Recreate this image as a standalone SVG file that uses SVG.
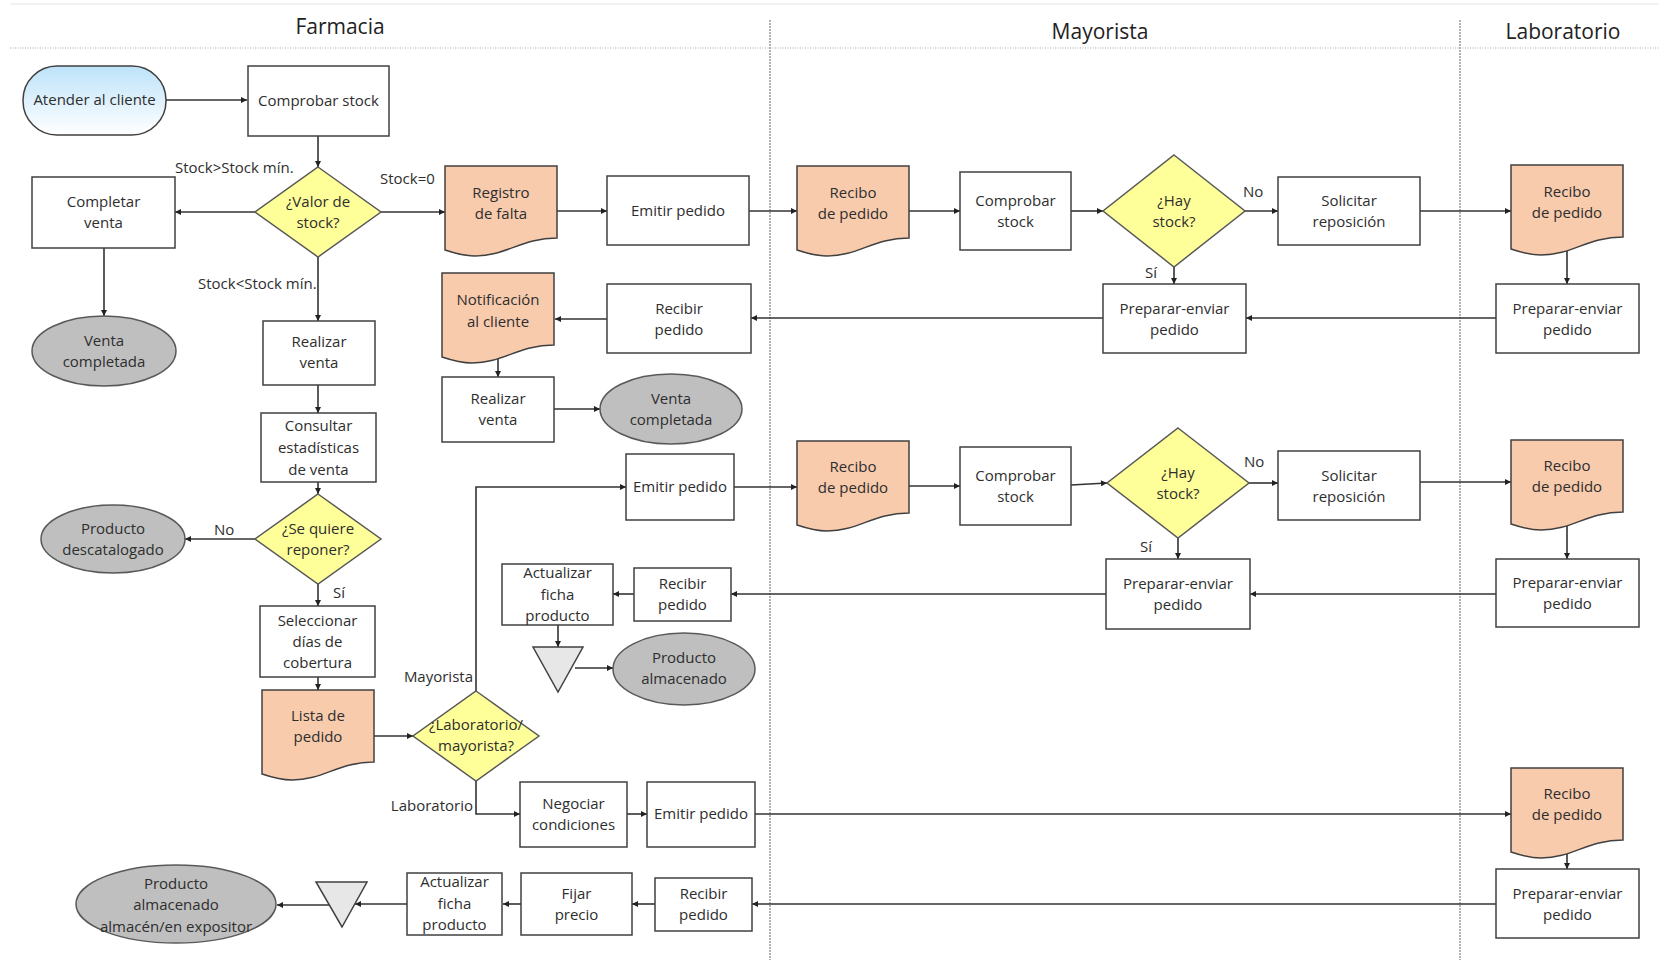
<svg xmlns="http://www.w3.org/2000/svg" width="1659" height="960" viewBox="0 0 1659 960">
<defs>
<style>
.box{fill:#fff;stroke:#404040;stroke-width:1.5}
.doc{fill:#f8cbad;stroke:#404040;stroke-width:1.5}
.dec{fill:#ffff99;stroke:#595959;stroke-width:1.5}
.end{fill:#bfbfbf;stroke:#595959;stroke-width:1.5}
.tri{fill:#e7e7e7;stroke:#404040;stroke-width:1.5}
.t{font-family:"Open Sans","Noto Sans",sans-serif;font-size:15px;fill:#2e2e2e;text-anchor:middle}
.lbl{font-family:"Open Sans","Noto Sans",sans-serif;font-size:15px;fill:#2e2e2e}
.title{font-family:"Open Sans","Noto Sans",sans-serif;font-size:21px;fill:#222;text-anchor:middle}
.c{fill:none;stroke:#333;stroke-width:1.6;marker-end:url(#arr)}
.lane{stroke:#8a8a8a;stroke-width:1.3;stroke-dasharray:2 1;fill:none}
.hl{stroke:#aaa;stroke-width:1.2;stroke-dasharray:1 1.5;fill:none}
</style>
<linearGradient id="blue" x1="0" y1="0" x2="0" y2="1"><stop offset="0" stop-color="#bde3fa"/><stop offset="1" stop-color="#ffffff"/></linearGradient>
<marker id="arr" viewBox="0 0 10 10" refX="10" refY="5" markerWidth="8" markerHeight="6" markerUnits="userSpaceOnUse" orient="auto"><path d="M0,0 L10,5 L0,10 z" fill="#222"/></marker>
<path id="docShape" d="M0,0 H112 V72 C76,72 62,90 30,90 C18,90 9,87 0,84 Z"/>
</defs>
<rect width="1659" height="960" fill="#fff"/>
<g id="lanes">
<line x1="10" y1="4" x2="1659" y2="4" stroke="#eeeeee" stroke-width="1.5"/>
<line class="hl" x1="10" y1="48" x2="1659" y2="48"/>
<line class="lane" x1="770" y1="20" x2="770" y2="960"/>
<line class="lane" x1="1460" y1="20" x2="1460" y2="960"/>
<text class="title" x="340" y="34">Farmacia</text>
<text class="title" x="1100" y="39">Mayorista</text>
<text class="title" x="1563" y="39">Laboratorio</text>
</g>
<g id="connectors">
<path class="c" d="M166,100 H247"/>
<path class="c" d="M318,136 V167"/>
<path class="c" d="M255,212 H175"/>
<path class="c" d="M381,212 H445"/>
<path class="c" d="M104,248 V316"/>
<path class="c" d="M318,257 V321"/>
<path class="c" d="M557,211 H607"/>
<path class="c" d="M749,211 H797"/>
<path class="c" d="M909,211 H960"/>
<path class="c" d="M1071,211 H1103"/>
<path class="c" d="M1245,211 H1278"/>
<path class="c" d="M1420,211 H1511"/>
<path class="c" d="M1567,251 V284"/>
<path class="c" d="M1174,267 V284"/>
<path class="c" d="M1496,318 H1246"/>
<path class="c" d="M1103,318 H751"/>
<path class="c" d="M607,319 H555"/>
<path class="c" d="M498,359 V377"/>
<path class="c" d="M554,409 H600"/>
<path class="c" d="M318,385 V413"/>
<path class="c" d="M318,482 V494"/>
<path class="c" d="M255,539 H185"/>
<path class="c" d="M318,584 V606"/>
<path class="c" d="M318,677 V690"/>
<path class="c" d="M374,736 H413"/>
<path class="c" d="M476,691 V487 H626"/>
<path class="c" d="M734,487 H797"/>
<path class="c" d="M909,486 H960"/>
<path class="c" d="M1071,485 L1107,483"/>
<path class="c" d="M1249,483 H1278"/>
<path class="c" d="M1420,482 H1511"/>
<path class="c" d="M1567,526 V559"/>
<path class="c" d="M1178,538 V559"/>
<path class="c" d="M1496,594 H1250"/>
<path class="c" d="M1106,594 H731"/>
<path class="c" d="M634,594 H613"/>
<path class="c" d="M558,625 V647"/>
<path class="c" d="M575,668 H613"/>
<path class="c" d="M476,781 V814 H520"/>
<path class="c" d="M627,814 H647"/>
<path class="c" d="M755,814 H1511"/>
<path class="c" d="M1567,854 V869"/>
<path class="c" d="M1496,904 H752"/>
<path class="c" d="M655,904 H632"/>
<path class="c" d="M521,904 H503"/>
<path class="c" d="M407,904 H355"/>
<path class="c" d="M330,905 H277"/>
</g>
<g id="labels">
<text class="lbl" x="175" y="173">Stock&gt;Stock mín.</text>
<text class="lbl" x="380" y="184">Stock=0</text>
<text class="lbl" x="198" y="289">Stock&lt;Stock mín.</text>
<text class="lbl" x="214" y="535">No</text>
<text class="lbl" x="333" y="598">Sí</text>
<text class="lbl" x="473" y="682" text-anchor="end">Mayorista</text>
<text class="lbl" x="473" y="811" text-anchor="end">Laboratorio</text>
<text class="lbl" x="1243" y="197">No</text>
<text class="lbl" x="1145" y="278">Sí</text>
<text class="lbl" x="1244" y="467">No</text>
<text class="lbl" x="1140" y="552">Sí</text>
</g>
<g id="n_atender"><rect x="23" y="66" width="143" height="69" rx="34" fill="url(#blue)" stroke="#404040" stroke-width="1.5"/><text class="t" x="94.5" y="105">Atender al cliente</text></g>
<g id="n_comprobar"><rect class="box" x="248" y="66" width="141" height="70"/><text class="t" x="318.5" y="106">Comprobar stock</text></g>
<g id="n_valor"><polygon class="dec" points="318,167 381,212 318,257 255,212"/><text class="t" x="318" y="207">¿Valor de</text><text class="t" x="318" y="228">stock?</text></g>
<g id="n_completar"><rect class="box" x="32" y="177" width="143" height="71"/><text class="t" x="103.5" y="207">Completar</text><text class="t" x="103.5" y="228">venta</text></g>
<g id="n_venta1"><ellipse class="end" cx="104" cy="351" rx="72" ry="35"/><text class="t" x="104" y="346">Venta</text><text class="t" x="104" y="367">completada</text></g>
<g id="n_realizar1"><rect class="box" x="263" y="321" width="112" height="64"/><text class="t" x="319" y="347">Realizar</text><text class="t" x="319" y="368">venta</text></g>
<g id="n_consultar"><rect class="box" x="261" y="413" width="115" height="69"/><text class="t" x="318.5" y="431">Consultar</text><text class="t" x="318.5" y="453">estadísticas</text><text class="t" x="318.5" y="475">de venta</text></g>
<g id="n_reponer"><polygon class="dec" points="318,494 381,539 318,584 255,539"/><text class="t" x="318" y="534">¿Se quiere</text><text class="t" x="318" y="555">reponer?</text></g>
<g id="n_descat"><ellipse class="end" cx="113" cy="539" rx="72" ry="34"/><text class="t" x="113" y="534">Producto</text><text class="t" x="113" y="555">descatalogado</text></g>
<g id="n_seleccionar"><rect class="box" x="260" y="606" width="115" height="71"/><text class="t" x="317.5" y="626">Seleccionar</text><text class="t" x="317.5" y="647">días de</text><text class="t" x="317.5" y="668">cobertura</text></g>
<g id="n_lista"><use href="#docShape" class="doc" x="262" y="690"/><text class="t" x="318" y="721">Lista de</text><text class="t" x="318" y="742">pedido</text></g>
<g id="n_labmay"><polygon class="dec" points="476,691 539,736 476,781 413,736"/><text class="t" x="476" y="730">¿Laboratorio/</text><text class="t" x="476" y="751">mayorista?</text></g>
<g id="n_registro"><use href="#docShape" class="doc" x="445" y="166"/><text class="t" x="501" y="198">Registro</text><text class="t" x="501" y="219">de falta</text></g>
<g id="n_emitir1"><rect class="box" x="607" y="176" width="142" height="69"/><text class="t" x="678" y="216">Emitir pedido</text></g>
<g id="n_recibir1"><rect class="box" x="607" y="284" width="144" height="69"/><text class="t" x="679" y="314">Recibir</text><text class="t" x="679" y="335">pedido</text></g>
<g id="n_notif"><use href="#docShape" class="doc" x="442" y="273"/><text class="t" x="498" y="305">Notificación</text><text class="t" x="498" y="327">al cliente</text></g>
<g id="n_realizar2"><rect class="box" x="442" y="377" width="112" height="65"/><text class="t" x="498" y="404">Realizar</text><text class="t" x="498" y="425">venta</text></g>
<g id="n_venta2"><ellipse class="end" cx="671" cy="409" rx="71" ry="35"/><text class="t" x="671" y="404">Venta</text><text class="t" x="671" y="425">completada</text></g>
<g id="n_emitir2"><rect class="box" x="626" y="454" width="108" height="66"/><text class="t" x="680" y="492">Emitir pedido</text></g>
<g id="n_actualizar2"><rect class="box" x="502" y="564" width="111" height="61"/><text class="t" x="557.5" y="578">Actualizar</text><text class="t" x="557.5" y="600">ficha</text><text class="t" x="557.5" y="621">producto</text></g>
<g id="n_recibir2"><rect class="box" x="634" y="568" width="97" height="53"/><text class="t" x="682.5" y="589">Recibir</text><text class="t" x="682.5" y="610">pedido</text></g>
<g id="n_tri2"><polygon class="tri" points="533,647 583,647 558,692"/></g>
<g id="n_almacenado"><ellipse class="end" cx="684" cy="669" rx="71" ry="36"/><text class="t" x="684" y="663">Producto</text><text class="t" x="684" y="684">almacenado</text></g>
<g id="n_negociar"><rect class="box" x="520" y="782" width="107" height="65"/><text class="t" x="573.5" y="809">Negociar</text><text class="t" x="573.5" y="830">condiciones</text></g>
<g id="n_emitir3"><rect class="box" x="647" y="782" width="108" height="65"/><text class="t" x="701" y="819">Emitir pedido</text></g>
<g id="n_recibir3"><rect class="box" x="655" y="878" width="97" height="53"/><text class="t" x="703.5" y="899">Recibir</text><text class="t" x="703.5" y="920">pedido</text></g>
<g id="n_fijar"><rect class="box" x="521" y="873" width="111" height="62"/><text class="t" x="576.5" y="899">Fijar</text><text class="t" x="576.5" y="920">precio</text></g>
<g id="n_actualizar3"><rect class="box" x="407" y="873" width="95" height="62"/><text class="t" x="454.5" y="887">Actualizar</text><text class="t" x="454.5" y="909">ficha</text><text class="t" x="454.5" y="930">producto</text></g>
<g id="n_tri3"><polygon class="tri" points="316,882 367,882 342,927"/></g>
<g id="n_almacen"><ellipse class="end" cx="176" cy="904" rx="100" ry="39"/><text class="t" x="176" y="889">Producto</text><text class="t" x="176" y="910">almacenado</text><text class="t" x="176" y="932">almacén/en expositor</text></g>
<g id="n_recibo_m1"><use href="#docShape" class="doc" x="797" y="166"/><text class="t" x="853" y="198">Recibo</text><text class="t" x="853" y="219">de pedido</text></g>
<g id="n_comp_m1"><rect class="box" x="960" y="172" width="111" height="78"/><text class="t" x="1015.5" y="206">Comprobar</text><text class="t" x="1015.5" y="227">stock</text></g>
<g id="n_hay1"><polygon class="dec" points="1174,155 1245,211 1174,267 1103,211"/><text class="t" x="1174" y="206">¿Hay</text><text class="t" x="1174" y="227">stock?</text></g>
<g id="n_sol1"><rect class="box" x="1278" y="177" width="142" height="68"/><text class="t" x="1349" y="206">Solicitar</text><text class="t" x="1349" y="227">reposición</text></g>
<g id="n_prep_m1"><rect class="box" x="1103" y="284" width="143" height="69"/><text class="t" x="1174.5" y="314">Preparar-enviar</text><text class="t" x="1174.5" y="335">pedido</text></g>
<g id="n_recibo_m2"><use href="#docShape" class="doc" x="797" y="441"/><text class="t" x="853" y="472">Recibo</text><text class="t" x="853" y="493">de pedido</text></g>
<g id="n_comp_m2"><rect class="box" x="960" y="447" width="111" height="78"/><text class="t" x="1015.5" y="481">Comprobar</text><text class="t" x="1015.5" y="502">stock</text></g>
<g id="n_hay2"><polygon class="dec" points="1178,428 1249,483 1178,538 1107,483"/><text class="t" x="1178" y="478">¿Hay</text><text class="t" x="1178" y="499">stock?</text></g>
<g id="n_sol2"><rect class="box" x="1278" y="451" width="142" height="69"/><text class="t" x="1349" y="481">Solicitar</text><text class="t" x="1349" y="502">reposición</text></g>
<g id="n_prep_m2"><rect class="box" x="1106" y="559" width="144" height="70"/><text class="t" x="1178" y="589">Preparar-enviar</text><text class="t" x="1178" y="610">pedido</text></g>
<g id="n_recibo_l1"><use href="#docShape" class="doc" x="1511" y="165"/><text class="t" x="1567" y="197">Recibo</text><text class="t" x="1567" y="218">de pedido</text></g>
<g id="n_prep_l1"><rect class="box" x="1496" y="284" width="143" height="69"/><text class="t" x="1567.5" y="314">Preparar-enviar</text><text class="t" x="1567.5" y="335">pedido</text></g>
<g id="n_recibo_l2"><use href="#docShape" class="doc" x="1511" y="440"/><text class="t" x="1567" y="471">Recibo</text><text class="t" x="1567" y="492">de pedido</text></g>
<g id="n_prep_l2"><rect class="box" x="1496" y="559" width="143" height="68"/><text class="t" x="1567.5" y="588">Preparar-enviar</text><text class="t" x="1567.5" y="609">pedido</text></g>
<g id="n_recibo_l3"><use href="#docShape" class="doc" x="1511" y="768"/><text class="t" x="1567" y="799">Recibo</text><text class="t" x="1567" y="820">de pedido</text></g>
<g id="n_prep_l3"><rect class="box" x="1496" y="869" width="143" height="69"/><text class="t" x="1567.5" y="899">Preparar-enviar</text><text class="t" x="1567.5" y="920">pedido</text></g>
</svg>
